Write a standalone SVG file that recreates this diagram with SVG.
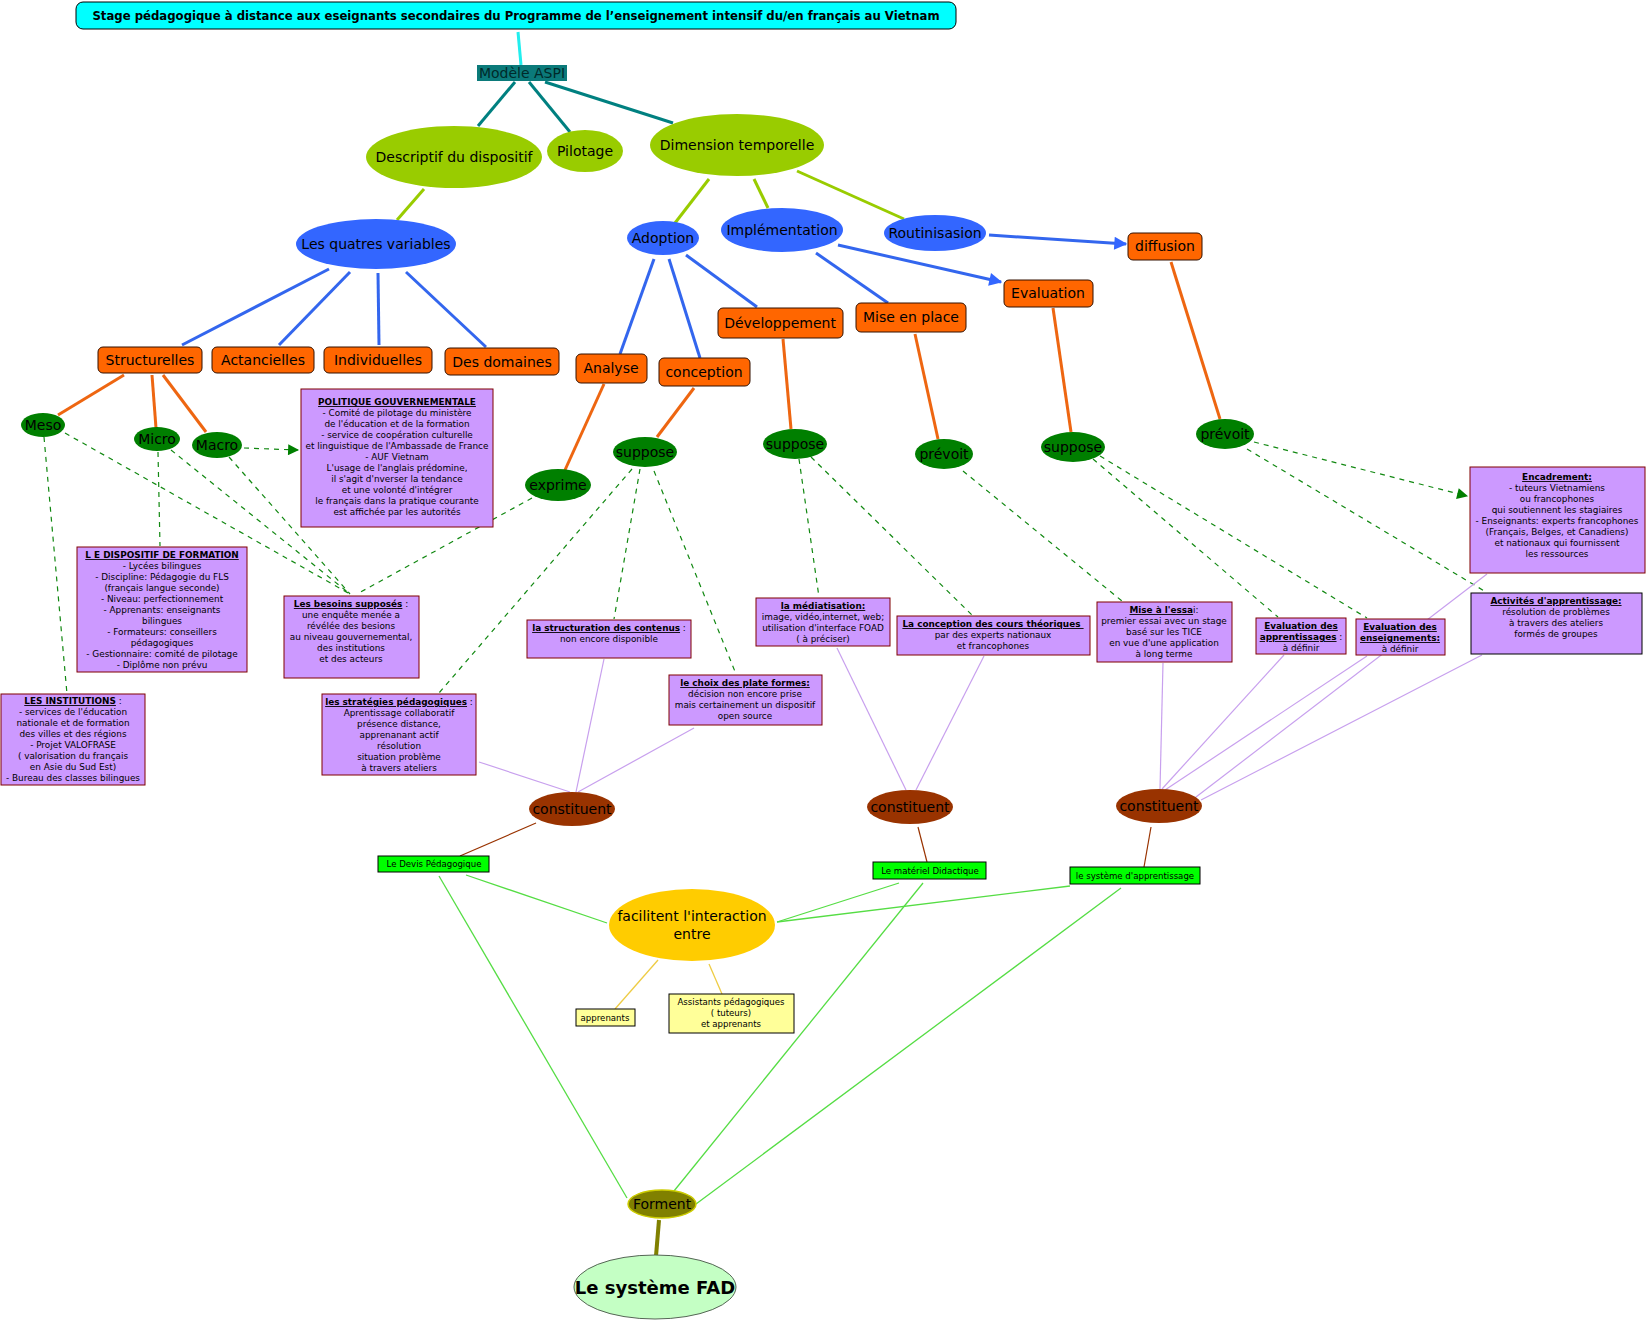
<svg xmlns="http://www.w3.org/2000/svg" width="1648" height="1323" viewBox="0 0 1648 1323">
<style>
text{font-family:"DejaVu Sans","Verdana",sans-serif;fill:#000;text-anchor:middle}
.n{font-size:14px}
.s{font-size:8.9px}
.g{font-size:8.6px}
.h{font-weight:bold;text-decoration:underline}
.orange{fill:#ff6600;stroke:#331100;stroke-width:1}
.purple{fill:#cc99ff;stroke:#800000;stroke-width:1}
.yg{fill:#99cc00}
.blue{fill:#3366ff}
.dg{fill:#007f00}
.br{fill:#993300}
.gb{fill:#00ff00;stroke:#000;stroke-width:1}
.yb{fill:#ffff99;stroke:#000;stroke-width:1}
.c-teal{stroke:#008080;stroke-width:3}
.c-yg{stroke:#99cc00;stroke-width:3}
.c-blue{stroke:#3366ee;stroke-width:3}
.c-or{stroke:#ee6611;stroke-width:3}
.c-dash{stroke:#118811;stroke-width:1.2;stroke-dasharray:5,5}
.c-pur{stroke:#c8a0ee;stroke-width:1.2}
.c-brn{stroke:#993300;stroke-width:1.2}
.c-lg{stroke:#55dd44;stroke-width:1.3}
.c-yel{stroke:#eecc44;stroke-width:1.3}
</style>
<defs>
<marker id="ab" viewBox="0 0 10 10" refX="9" refY="5" markerWidth="14" markerHeight="13" markerUnits="userSpaceOnUse" orient="auto"><path d="M0,0 L10,5 L0,10 z" fill="#3366ff"/></marker>
<marker id="ag" viewBox="0 0 10 10" refX="9" refY="5" markerWidth="12" markerHeight="11" markerUnits="userSpaceOnUse" orient="auto"><path d="M0,0 L10,5 L0,10 z" fill="#008000"/></marker>
</defs>
<rect width="1648" height="1323" fill="#fff"/>
<g id="connectors" fill="none">
<line class="c-teal" x1="518" y1="32" x2="521" y2="65" style="stroke:#22eeee"/>
<line class="c-teal" x1="515" y1="82" x2="478" y2="126"/>
<line class="c-teal" x1="529" y1="82" x2="570" y2="132"/>
<line class="c-teal" x1="545" y1="82" x2="673" y2="123"/>
<line class="c-yg" x1="424" y1="189" x2="397" y2="220"/>
<line class="c-yg" x1="709" y1="179" x2="675" y2="223"/>
<line class="c-yg" x1="754" y1="179" x2="768" y2="208"/>
<line class="c-yg" x1="797" y1="171" x2="904" y2="219"/>
<line class="c-blue" x1="329" y1="269" x2="182" y2="345"/>
<line class="c-blue" x1="350" y1="272" x2="279" y2="345"/>
<line class="c-blue" x1="378" y1="273" x2="379" y2="345"/>
<line class="c-blue" x1="406" y1="272" x2="486" y2="347"/>
<line class="c-blue" x1="654" y1="259" x2="620" y2="354"/>
<line class="c-blue" x1="669" y1="259" x2="700" y2="358"/>
<line class="c-blue" x1="686" y1="255" x2="757" y2="307"/>
<line class="c-blue" x1="816" y1="253" x2="888" y2="303"/>
<line class="c-blue" x1="838" y1="245" x2="1001" y2="282" marker-end="url(#ab)"/>
<line class="c-blue" x1="989" y1="235" x2="1126" y2="244" marker-end="url(#ab)"/>
<line class="c-or" x1="124" y1="375" x2="58" y2="415"/>
<line class="c-or" x1="152" y1="375" x2="156" y2="428"/>
<line class="c-or" x1="163" y1="375" x2="206" y2="432"/>
<line class="c-or" x1="604" y1="384" x2="565" y2="470"/>
<line class="c-or" x1="694" y1="388" x2="657" y2="437"/>
<line class="c-or" x1="783" y1="339" x2="791" y2="429"/>
<line class="c-or" x1="915" y1="334" x2="938" y2="439"/>
<line class="c-or" x1="1053" y1="308" x2="1071" y2="432"/>
<line class="c-or" x1="1171" y1="262" x2="1220" y2="419"/>
<line class="c-dash" x1="44" y1="437" x2="67" y2="694"/>
<line class="c-dash" x1="65" y1="433" x2="350" y2="594"/>
<line class="c-dash" x1="158" y1="452" x2="160" y2="546"/>
<line class="c-dash" x1="171" y1="450" x2="350" y2="594"/>
<line class="c-dash" x1="229" y1="457" x2="350" y2="594"/>
<line class="c-dash" x1="244" y1="448" x2="298" y2="450" marker-end="url(#ag)"/>
<line class="c-dash" x1="532" y1="498" x2="357" y2="594"/>
<line class="c-dash" x1="640" y1="469" x2="614" y2="619"/>
<line class="c-dash" x1="632" y1="469" x2="439" y2="693"/>
<line class="c-dash" x1="654" y1="471" x2="736" y2="674"/>
<line class="c-dash" x1="799" y1="459" x2="819" y2="597"/>
<line class="c-dash" x1="811" y1="457" x2="972" y2="615"/>
<line class="c-dash" x1="963" y1="471" x2="1122" y2="601"/>
<line class="c-dash" x1="1093" y1="459" x2="1278" y2="617"/>
<line class="c-dash" x1="1100" y1="456" x2="1367" y2="618"/>
<line class="c-dash" x1="1254" y1="442" x2="1467" y2="496" marker-end="url(#ag)"/>
<line class="c-dash" x1="1247" y1="449" x2="1486" y2="592"/>
<line class="c-pur" x1="604" y1="659" x2="576" y2="792"/>
<line class="c-pur" x1="479" y1="762" x2="570" y2="792"/>
<line class="c-pur" x1="694" y1="728" x2="578" y2="792"/>
<line class="c-pur" x1="837" y1="648" x2="906" y2="790"/>
<line class="c-pur" x1="984" y1="656" x2="916" y2="790"/>
<line class="c-pur" x1="1163" y1="663" x2="1160" y2="789"/>
<line class="c-pur" x1="1284" y1="655" x2="1162" y2="789"/>
<line class="c-pur" x1="1367" y1="656" x2="1165" y2="790"/>
<line class="c-pur" x1="1487" y1="574" x2="1196" y2="797"/>
<line class="c-pur" x1="1482" y1="655" x2="1201" y2="800"/>
<line class="c-brn" x1="536" y1="823" x2="460" y2="856"/>
<line class="c-brn" x1="918" y1="827" x2="927" y2="862"/>
<line class="c-brn" x1="1151" y1="827" x2="1144" y2="867"/>
<line class="c-lg" x1="466" y1="875" x2="607" y2="923"/>
<line class="c-lg" x1="899" y1="883" x2="777" y2="922"/>
<line class="c-lg" x1="1070" y1="886" x2="777" y2="922"/>
<line class="c-lg" x1="439" y1="876" x2="627" y2="1198"/>
<line class="c-lg" x1="923" y1="883" x2="674" y2="1191"/>
<line class="c-lg" x1="1121" y1="888" x2="696" y2="1204"/>
<line class="c-yel" x1="658" y1="960" x2="615" y2="1009"/>
<line class="c-yel" x1="709" y1="964" x2="722" y2="994"/>
<line x1="659" y1="1220" x2="656" y2="1256" stroke="#808000" stroke-width="4"/>
</g>
<g id="title"><rect x="76" y="2" width="880" height="27" rx="7" fill="#00ffff" stroke="#000" stroke-width="1"/><text x="516" y="20" style="font-size:11.7px;font-weight:bold">Stage pédagogique à distance aux eseignants secondaires du Programme de l’enseignement intensif du/en français au Vietnam</text></g>
<g id="modele"><rect x="477" y="65" width="90" height="16" fill="#0b7a7a"/><text class="n" x="522" y="78" style="fill:#002a2a">Modèle ASPI</text></g>
<g id="descriptif"><ellipse class="yg" cx="454" cy="157" rx="88" ry="31"/><text class="n" x="454" y="162">Descriptif du dispositif</text></g>
<g id="pilotage"><ellipse class="yg" cx="585" cy="151" rx="38" ry="21"/><text class="n" x="585" y="156">Pilotage</text></g>
<g id="dimension"><ellipse class="yg" cx="737" cy="145" rx="87" ry="31"/><text class="n" x="737" y="150">Dimension temporelle</text></g>
<g id="quatres"><ellipse class="blue" cx="376" cy="244" rx="80" ry="25"/><text class="n" x="376" y="249">Les quatres variables</text></g>
<g id="adoption"><ellipse class="blue" cx="663" cy="238" rx="36" ry="17"/><text class="n" x="663" y="243">Adoption</text></g>
<g id="implementation"><ellipse class="blue" cx="782" cy="230" rx="61" ry="22"/><text class="n" x="782" y="235">Implémentation</text></g>
<g id="routinisasion"><ellipse class="blue" cx="935" cy="233" rx="51" ry="18"/><text class="n" x="935" y="238">Routinisasion</text></g>
<g id="structurelles"><rect class="orange" x="98" y="347" width="104" height="26" rx="5"/><text class="n" x="150" y="365">Structurelles</text></g>
<g id="actancielles"><rect class="orange" x="212" y="347" width="102" height="26" rx="5"/><text class="n" x="263" y="365">Actancielles</text></g>
<g id="individuelles"><rect class="orange" x="324" y="347" width="108" height="26" rx="5"/><text class="n" x="378" y="365">Individuelles</text></g>
<g id="domaines"><rect class="orange" x="445" y="348" width="114" height="27" rx="5"/><text class="n" x="502" y="367">Des domaines</text></g>
<g id="analyse"><rect class="orange" x="576" y="354" width="71" height="29" rx="5"/><text class="n" x="611" y="373">Analyse</text></g>
<g id="conception"><rect class="orange" x="659" y="358" width="91" height="28" rx="5"/><text class="n" x="704" y="377">conception</text></g>
<g id="developpement"><rect class="orange" x="718" y="308" width="125" height="30" rx="5"/><text class="n" x="780" y="328">Développement</text></g>
<g id="miseenplace"><rect class="orange" x="856" y="303" width="110" height="29" rx="5"/><text class="n" x="911" y="322">Mise en place</text></g>
<g id="evaluation"><rect class="orange" x="1004" y="280" width="89" height="27" rx="5"/><text class="n" x="1048" y="298">Evaluation</text></g>
<g id="diffusion"><rect class="orange" x="1128" y="233" width="74" height="27" rx="5"/><text class="n" x="1165" y="251">diffusion</text></g>
<g id="meso"><ellipse class="dg" cx="43" cy="425" rx="22" ry="12"/><text class="n" x="43" y="430">Meso</text></g>
<g id="micro"><ellipse class="dg" cx="157" cy="439" rx="23" ry="12"/><text class="n" x="157" y="444">Micro</text></g>
<g id="macro"><ellipse class="dg" cx="217" cy="445" rx="25" ry="13"/><text class="n" x="217" y="450">Macro</text></g>
<g id="exprime"><ellipse class="dg" cx="558" cy="485" rx="33" ry="16"/><text class="n" x="558" y="490">exprime</text></g>
<g id="suppose1"><ellipse class="dg" cx="645" cy="452" rx="32" ry="15"/><text class="n" x="645" y="457">suppose</text></g>
<g id="suppose2"><ellipse class="dg" cx="795" cy="444" rx="32" ry="15"/><text class="n" x="795" y="449">suppose</text></g>
<g id="prevoit1"><ellipse class="dg" cx="944" cy="454" rx="29" ry="15"/><text class="n" x="944" y="459">prévoit</text></g>
<g id="suppose3"><ellipse class="dg" cx="1073" cy="447" rx="32" ry="15"/><text class="n" x="1073" y="452">suppose</text></g>
<g id="prevoit2"><ellipse class="dg" cx="1225" cy="434" rx="29" ry="15"/><text class="n" x="1225" y="439">prévoit</text></g>
<g id="politique"><rect class="purple" x="301" y="389" width="192" height="138"/>
<text class="s" x="397"><tspan x="397" y="405" class="h">POLITIQUE GOUVERNEMENTALE</tspan><tspan x="397" y="416">- Comité de pilotage du ministère</tspan><tspan x="397" y="427">de l'éducation et de la formation</tspan><tspan x="397" y="438">- service de coopération culturelle</tspan><tspan x="397" y="449">et linguistique de l'Ambassade de France</tspan><tspan x="397" y="460">- AUF Vietnam</tspan><tspan x="397" y="471">L'usage de l'anglais prédomine,</tspan><tspan x="397" y="482">il s'agit d'nverser la tendance</tspan><tspan x="397" y="493">et une volonté d'intégrer</tspan><tspan x="397" y="504">le français dans la pratique courante</tspan><tspan x="397" y="515">est affichée par les autorités</tspan></text></g>
<g id="dispositif"><rect class="purple" x="77" y="547" width="170" height="125"/>
<text class="s"><tspan x="162" y="558" class="h">L E DISPOSITIF DE FORMATION</tspan><tspan x="162" y="569">- Lycées bilingues</tspan><tspan x="162" y="580">- Discipline: Pédagogie du FLS</tspan><tspan x="162" y="591">(français langue seconde)</tspan><tspan x="162" y="602">- Niveau: perfectionnement</tspan><tspan x="162" y="613">- Apprenants: enseignants</tspan><tspan x="162" y="624">bilingues</tspan><tspan x="162" y="635">- Formateurs: conseillers</tspan><tspan x="162" y="646">pédagogiques</tspan><tspan x="162" y="657">- Gestionnaire: comité de pilotage</tspan><tspan x="162" y="668">- Diplôme non prévu</tspan></text></g>
<g id="institutions"><rect class="purple" x="1" y="694" width="144" height="91"/>
<text class="s"><tspan x="73" y="704"><tspan class="h">LES INSTITUTIONS</tspan> :</tspan><tspan x="73" y="715">- services de l'éducation</tspan><tspan x="73" y="726">nationale et de formation</tspan><tspan x="73" y="737">des villes et des régions</tspan><tspan x="73" y="748">- Projet VALOFRASE</tspan><tspan x="73" y="759">( valorisation du français</tspan><tspan x="73" y="770">en Asie du Sud Est)</tspan><tspan x="73" y="781">- Bureau des classes bilingues</tspan></text></g>
<g id="besoins"><rect class="purple" x="284" y="596" width="135" height="82"/>
<text class="s"><tspan x="351" y="607"><tspan class="h">Les besoins supposés</tspan> :</tspan><tspan x="351" y="618">une enquête menée a</tspan><tspan x="351" y="629">révélée des besions</tspan><tspan x="351" y="640">au niveau gouvernemental,</tspan><tspan x="351" y="651">des institutions</tspan><tspan x="351" y="662">et des acteurs</tspan></text></g>
<g id="structuration"><rect class="purple" x="527" y="620" width="164" height="38"/>
<text class="s"><tspan x="609" y="631"><tspan class="h">la structuration des contenus</tspan> :</tspan><tspan x="609" y="642">non encore disponible</tspan></text></g>
<g id="strategies"><rect class="purple" x="322" y="694" width="154" height="81"/>
<text class="s"><tspan x="399" y="705"><tspan class="h">les stratégies pédagogiques</tspan> :</tspan><tspan x="399" y="716">Aprentissage collaboratif</tspan><tspan x="399" y="727">présence distance,</tspan><tspan x="399" y="738">apprenanant actif</tspan><tspan x="399" y="749">résolution</tspan><tspan x="399" y="760">situation problème</tspan><tspan x="399" y="771">à travers ateliers</tspan></text></g>
<g id="choix"><rect class="purple" x="669" y="675" width="153" height="50"/>
<text class="s"><tspan x="745" y="686" class="h">le choix des plate formes:</tspan><tspan x="745" y="697">décision non encore prise</tspan><tspan x="745" y="708">mais certainement un dispositif</tspan><tspan x="745" y="719">open source</tspan></text></g>
<g id="mediatisation"><rect class="purple" x="756" y="598" width="134" height="48"/>
<text class="s"><tspan x="823" y="609" class="h">la médiatisation:</tspan><tspan x="823" y="620">image, vidéo,internet, web;</tspan><tspan x="823" y="631">utilisation d'interface FOAD</tspan><tspan x="823" y="642">( à préciser)</tspan></text></g>
<g id="coursth"><rect class="purple" x="897" y="616" width="193" height="39"/>
<text class="s"><tspan x="993" y="627" class="h">La conception des cours théoriques </tspan><tspan x="993" y="638">par des experts nationaux</tspan><tspan x="993" y="649">et francophones</tspan></text></g>
<g id="essai"><rect class="purple" x="1097" y="602" width="135" height="60"/>
<text class="s"><tspan x="1164" y="613"><tspan class="h">Mise à l'essa</tspan>i:</tspan><tspan x="1164" y="624">premier essai avec un stage</tspan><tspan x="1164" y="635">basé sur les TICE</tspan><tspan x="1164" y="646">en vue d'une application</tspan><tspan x="1164" y="657">à long terme</tspan></text></g>
<g id="evalapp"><rect class="purple" x="1256" y="618" width="90" height="36"/>
<text class="s"><tspan x="1301" y="629" class="h">Evaluation des</tspan><tspan x="1301" y="640"><tspan class="h">apprentissages</tspan> :</tspan><tspan x="1301" y="651">à définir</tspan></text></g>
<g id="evalens"><rect class="purple" x="1356" y="619" width="89" height="36"/>
<text class="s"><tspan x="1400" y="630" class="h">Evaluation des</tspan><tspan x="1400" y="641" class="h">enseignements:</tspan><tspan x="1400" y="652">à définir</tspan></text></g>
<g id="encadrement"><rect class="purple" x="1470" y="467" width="175" height="106"/>
<text class="s"><tspan x="1557" y="480" class="h">Encadrement:</tspan><tspan x="1557" y="491">- tuteurs Vietnamiens</tspan><tspan x="1557" y="502">ou francophones</tspan><tspan x="1557" y="513">qui soutiennent les stagiaires</tspan><tspan x="1557" y="524">- Enseignants: experts francophones</tspan><tspan x="1557" y="535">(Français, Belges, et Canadiens)</tspan><tspan x="1557" y="546">et nationaux qui fournissent</tspan><tspan x="1557" y="557">les ressources</tspan></text></g>
<g id="activites"><rect class="purple" x="1471" y="593" width="171" height="61" style="stroke:#000"/>
<text class="s"><tspan x="1556" y="604" class="h">Activités d'apprentissage:</tspan><tspan x="1556" y="615">résolution de problèmes</tspan><tspan x="1556" y="626">à travers des ateliers</tspan><tspan x="1556" y="637">formés de groupes</tspan></text></g>
<g id="constituent1"><ellipse class="br" cx="572" cy="809" rx="43" ry="17"/><text class="n" x="572" y="814">constituent</text></g>
<g id="constituent2"><ellipse class="br" cx="910" cy="807" rx="43" ry="17"/><text class="n" x="910" y="812">constituent</text></g>
<g id="constituent3"><ellipse class="br" cx="1159" cy="806" rx="43" ry="17"/><text class="n" x="1159" y="811">constituent</text></g>
<g id="devis"><rect class="gb" x="378" y="856" width="111" height="16"/><text class="g" x="434" y="867">Le Devis Pédagogique</text></g>
<g id="materiel"><rect class="gb" x="873" y="862" width="113" height="17"/><text class="g" x="930" y="874">Le matériel Didactique</text></g>
<g id="systeme"><rect class="gb" x="1070" y="867" width="130" height="17"/><text class="g" x="1135" y="879">le système d'apprentissage</text></g>
<g id="facilitent"><ellipse cx="692" cy="925" rx="83" ry="36" fill="#ffcc00"/><text class="n" x="692"><tspan x="692" y="921">facilitent l'interaction</tspan><tspan x="692" y="939">entre</tspan></text></g>
<g id="apprenants"><rect class="yb" x="576" y="1009" width="59" height="17"/><text class="g" x="605" y="1021">apprenants</text></g>
<g id="assistants"><rect class="yb" x="669" y="994" width="125" height="39"/><text class="g"><tspan x="731" y="1005">Assistants pédagogiques</tspan><tspan x="731" y="1016">( tuteurs)</tspan><tspan x="731" y="1027">et apprenants</tspan></text></g>
<g id="forment"><ellipse cx="662" cy="1204" rx="34" ry="14" fill="#808000" stroke="#cccc00" stroke-width="1.5"/><text class="n" x="662" y="1209">Forment</text></g>
<g id="fad"><ellipse cx="655" cy="1287" rx="81" ry="32" fill="#c4ffc4" stroke="#556655" stroke-width="1"/><text x="655" y="1294" style="font-size:18px;font-weight:bold">Le système FAD</text></g>
</svg>
